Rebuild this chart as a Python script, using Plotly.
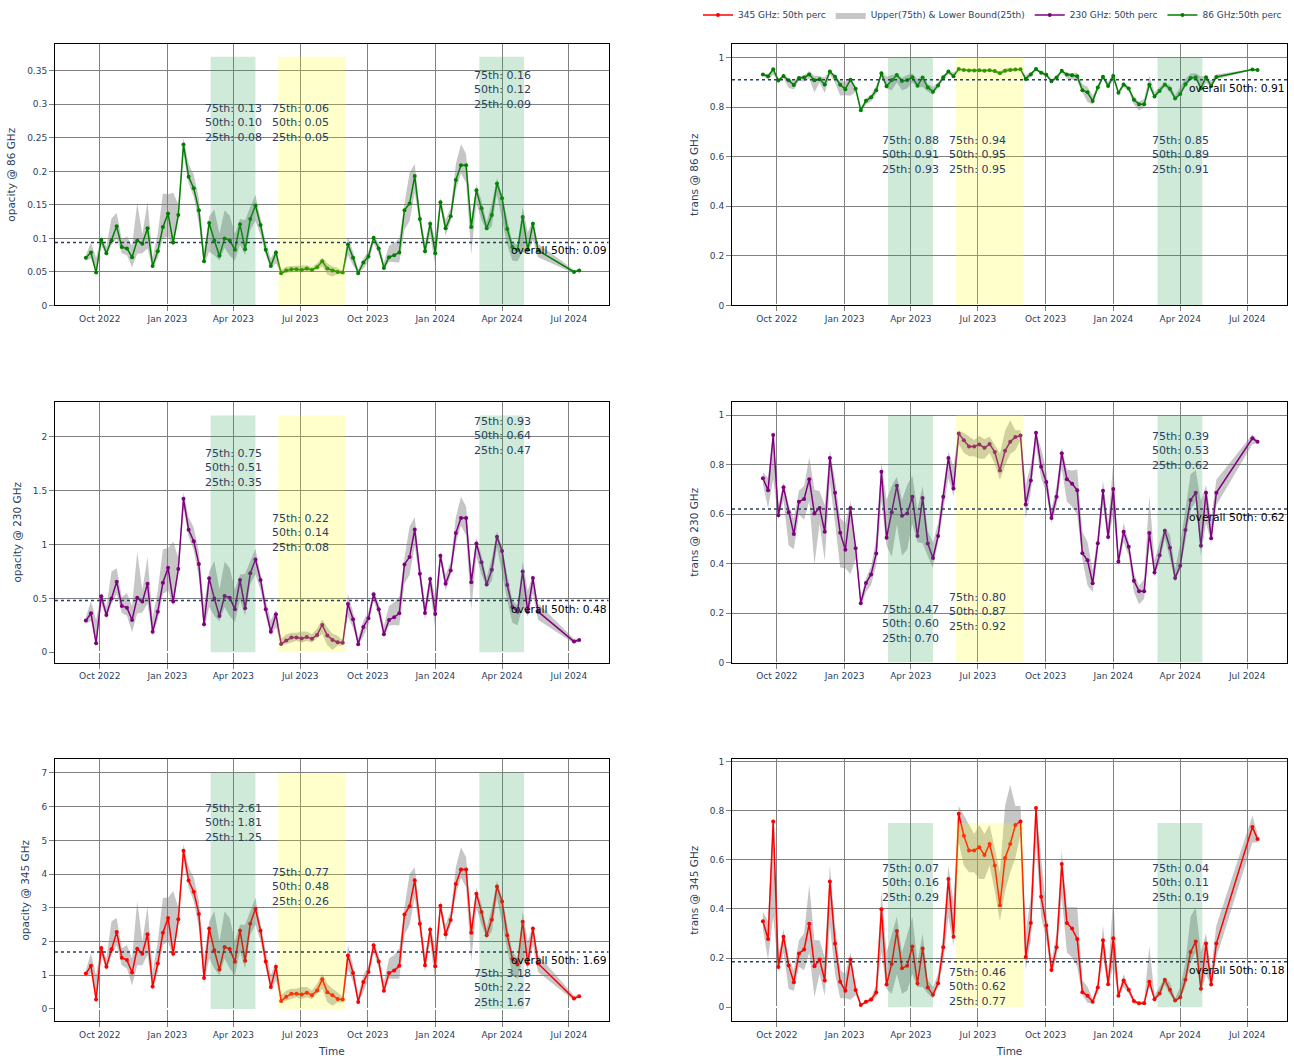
import plotly.graph_objects as go

dates = [
"2022-09-12","2022-09-19","2022-09-26","2022-10-03","2022-10-10","2022-10-17","2022-10-24","2022-10-31",
"2022-11-07","2022-11-14","2022-11-21","2022-11-28","2022-12-05","2022-12-12","2022-12-19","2022-12-26",
"2023-01-02","2023-01-09","2023-01-16","2023-01-23","2023-01-30","2023-02-06","2023-02-13","2023-02-20",
"2023-02-27","2023-03-06","2023-03-13","2023-03-20","2023-03-27","2023-04-03","2023-04-10","2023-04-17",
"2023-04-24","2023-05-01","2023-05-08","2023-05-15","2023-05-22","2023-05-29","2023-06-05","2023-06-12",
"2023-06-19","2023-06-26","2023-07-03","2023-07-10","2023-07-17","2023-07-24","2023-07-31","2023-08-07",
"2023-08-14","2023-08-21","2023-08-28","2023-09-04","2023-09-11","2023-09-18","2023-09-25","2023-10-02",
"2023-10-09","2023-10-16","2023-10-23","2023-10-30","2023-11-06","2023-11-13","2023-11-20","2023-11-27",
"2023-12-04","2023-12-11","2023-12-18","2023-12-25","2024-01-01","2024-01-08","2024-01-15","2024-01-22",
"2024-01-29","2024-02-05","2024-02-12","2024-02-19","2024-02-26","2024-03-04","2024-03-11","2024-03-18",
"2024-03-25","2024-04-01","2024-04-08","2024-04-15","2024-04-22","2024-04-29","2024-05-06","2024-05-13",
"2024-05-20","2024-07-08","2024-07-15"]

# ---------------- opacity @ 86 GHz ----------------
tau86_p50 = [0.071,0.079,0.049,0.098,0.078,0.097,0.118,0.087,0.085,0.072,0.097,0.092,0.115,0.059,0.081,0.117,
0.137,0.094,0.135,0.240,0.192,0.175,0.142,0.066,0.123,0.097,0.074,0.100,0.097,0.083,0.121,0.084,
0.129,0.149,0.120,0.083,0.059,0.079,0.048,0.052,0.054,0.054,0.053,0.055,0.053,0.057,0.066,0.055,
0.052,0.050,0.049,0.091,0.071,0.048,0.064,0.073,0.101,0.085,0.056,0.072,0.075,0.079,0.142,0.152,
0.193,0.129,0.081,0.122,0.078,0.154,0.115,0.133,0.187,0.209,0.209,0.117,0.172,0.145,0.115,0.135,
0.182,0.160,0.114,0.087,0.083,0.132,0.083,0.122,0.082,0.050,0.052]
tau86_p25 = [0.067,0.070,0.048,0.090,0.074,0.090,0.100,0.078,0.075,0.057,0.077,0.078,0.085,0.055,0.071,0.100,
0.103,0.088,0.127,0.226,0.182,0.162,0.122,0.061,0.080,0.075,0.067,0.086,0.074,0.067,0.091,0.075,
0.113,0.126,0.105,0.075,0.056,0.063,0.047,0.049,0.049,0.051,0.049,0.051,0.050,0.054,0.058,0.046,
0.043,0.047,0.047,0.075,0.060,0.048,0.055,0.065,0.093,0.077,0.053,0.065,0.065,0.064,0.113,0.126,
0.168,0.118,0.073,0.105,0.059,0.146,0.104,0.126,0.172,0.197,0.183,0.076,0.152,0.127,0.111,0.118,
0.166,0.127,0.090,0.067,0.066,0.080,0.077,0.098,0.072,0.048,0.051]
tau86_p75 = [0.075,0.094,0.071,0.102,0.088,0.130,0.138,0.098,0.103,0.089,0.153,0.106,0.155,0.072,0.107,0.167,
0.166,0.168,0.151,0.250,0.211,0.195,0.160,0.083,0.133,0.143,0.107,0.142,0.134,0.107,0.129,0.127,
0.147,0.165,0.129,0.095,0.070,0.085,0.053,0.058,0.059,0.059,0.060,0.060,0.057,0.063,0.071,0.063,
0.058,0.056,0.051,0.103,0.080,0.054,0.070,0.081,0.105,0.093,0.064,0.089,0.093,0.100,0.152,0.198,
0.211,0.142,0.093,0.129,0.099,0.161,0.128,0.145,0.211,0.241,0.226,0.129,0.181,0.156,0.125,0.152,
0.190,0.165,0.129,0.095,0.090,0.147,0.109,0.127,0.092,0.053,0.053]

# ---------------- opacity @ 230 GHz ----------------
tau230_p50 = [0.294,0.362,0.083,0.519,0.346,0.500,0.655,0.430,0.414,0.300,0.507,0.470,0.637,0.190,0.377,0.646,
0.785,0.470,0.773,1.425,1.138,1.032,0.819,0.260,0.686,0.500,0.337,0.522,0.507,0.400,0.671,0.408,
0.733,0.862,0.671,0.400,0.190,0.352,0.077,0.108,0.136,0.136,0.127,0.142,0.124,0.161,0.253,0.155,
0.114,0.093,0.087,0.448,0.306,0.074,0.235,0.315,0.538,0.400,0.167,0.300,0.325,0.362,0.816,0.884,
1.141,0.730,0.365,0.680,0.355,0.896,0.637,0.760,1.107,1.246,1.246,0.649,1.011,0.835,0.630,0.767,
1.073,0.940,0.624,0.420,0.377,0.751,0.377,0.689,0.377,0.099,0.114]
tau230_p25 = [0.264,0.293,0.074,0.456,0.316,0.449,0.541,0.364,0.339,0.186,0.360,0.368,0.451,0.154,0.302,0.538,
0.575,0.428,0.725,1.338,1.075,0.948,0.693,0.209,0.419,0.338,0.286,0.420,0.333,0.280,0.482,0.339,
0.634,0.721,0.575,0.337,0.160,0.232,0.065,0.075,0.091,0.106,0.088,0.103,0.091,0.131,0.169,0.065,
0.021,0.063,0.063,0.331,0.225,0.071,0.145,0.255,0.481,0.337,0.140,0.249,0.253,0.248,0.636,0.719,
0.985,0.661,0.305,0.572,0.214,0.848,0.571,0.718,1.014,1.174,1.084,0.391,0.885,0.721,0.603,0.662,
0.974,0.733,0.477,0.273,0.251,0.424,0.332,0.542,0.302,0.081,0.105]
tau230_p75 = [0.324,0.473,0.299,0.546,0.421,0.749,0.781,0.514,0.549,0.426,0.930,0.578,0.886,0.319,0.572,0.958,
0.965,1.028,0.875,1.488,1.255,1.158,0.933,0.434,0.749,0.848,0.586,0.840,0.783,0.580,0.722,0.729,
0.844,0.961,0.725,0.487,0.295,0.397,0.125,0.165,0.181,0.181,0.193,0.193,0.166,0.221,0.304,0.230,
0.171,0.153,0.108,0.541,0.375,0.131,0.295,0.375,0.571,0.457,0.245,0.429,0.463,0.518,0.876,1.169,
1.255,0.811,0.455,0.722,0.514,0.938,0.721,0.838,1.254,1.444,1.354,0.721,1.065,0.901,0.693,0.872,
1.124,0.973,0.717,0.483,0.431,0.844,0.572,0.722,0.452,0.126,0.120]

# ---------------- opacity @ 345 GHz ----------------
tau345_p50 = [1.05,1.28,0.28,1.81,1.25,1.77,2.28,1.52,1.45,1.08,1.79,1.64,2.22,0.67,1.35,2.26,
2.70,1.64,2.66,4.69,3.81,3.48,2.82,0.92,2.39,1.74,1.17,1.84,1.78,1.40,2.33,1.43,
2.53,2.97,2.32,1.41,0.65,1.25,0.24,0.36,0.45,0.45,0.43,0.48,0.41,0.55,0.88,0.50,
0.41,0.30,0.28,1.59,1.07,0.21,0.80,1.10,1.89,1.41,0.54,1.07,1.14,1.28,2.80,3.05,
3.82,2.53,1.30,2.36,1.27,3.06,2.22,2.64,3.71,4.14,4.14,2.26,3.42,2.88,2.19,2.65,
3.63,3.19,2.19,1.49,1.32,2.59,1.35,2.39,1.35,0.31,0.38]
tau345_p25 = [0.95,1.05,0.25,1.60,1.15,1.60,1.90,1.30,1.20,0.70,1.30,1.30,1.60,0.55,1.10,1.90,
2.00,1.50,2.50,4.40,3.60,3.20,2.40,0.75,1.50,1.20,1.00,1.50,1.20,1.00,1.70,1.20,
2.20,2.50,2.00,1.20,0.55,0.85,0.20,0.25,0.30,0.35,0.30,0.35,0.30,0.45,0.60,0.20,
0.10,0.20,0.20,1.20,0.80,0.20,0.50,0.90,1.70,1.20,0.45,0.90,0.90,0.90,2.20,2.50,
3.30,2.30,1.10,2.00,0.80,2.90,2.00,2.50,3.40,3.90,3.60,1.40,3.00,2.50,2.10,2.30,
3.30,2.50,1.70,1.00,0.90,1.50,1.20,1.90,1.10,0.25,0.35]
tau345_p75 = [1.15,1.65,1.00,1.90,1.50,2.60,2.70,1.80,1.90,1.50,3.20,2.00,3.05,1.10,2.00,3.30,
3.30,3.50,3.00,4.90,4.20,3.90,3.20,1.50,2.60,2.90,2.00,2.90,2.70,2.00,2.50,2.50,
2.90,3.30,2.50,1.70,1.00,1.40,0.40,0.55,0.60,0.60,0.65,0.65,0.55,0.75,1.05,0.75,
0.60,0.50,0.35,1.90,1.30,0.40,1.00,1.30,2.00,1.60,0.80,1.50,1.60,1.80,3.00,4.00,
4.20,2.80,1.60,2.50,1.80,3.20,2.50,2.90,4.20,4.80,4.50,2.50,3.60,3.10,2.40,3.00,
3.80,3.30,2.50,1.70,1.50,2.90,2.00,2.50,1.60,0.40,0.40]

# ---------------- transmission @ 86 GHz ----------------
trans86_p50 = [0.931,0.924,0.952,0.907,0.925,0.908,0.889,0.917,0.919,0.931,0.908,0.912,0.891,0.943,0.922,0.890,
0.872,0.910,0.874,0.787,0.825,0.839,0.868,0.936,0.884,0.908,0.929,0.905,0.908,0.920,0.886,0.919,
0.879,0.862,0.887,0.920,0.943,0.924,0.953,0.949,0.947,0.947,0.948,0.946,0.948,0.945,0.936,0.946,
0.949,0.951,0.952,0.913,0.931,0.953,0.938,0.930,0.904,0.919,0.946,0.931,0.928,0.924,0.868,0.859,
0.824,0.879,0.922,0.885,0.925,0.857,0.891,0.875,0.829,0.811,0.811,0.890,0.842,0.865,0.891,0.874,
0.834,0.852,0.892,0.917,0.920,0.876,0.920,0.885,0.921,0.951,0.949]
trans86_band_top = [0.935,0.932,0.953,0.914,0.929,0.914,0.905,0.925,0.928,0.945,0.926,0.925,0.919,0.946,0.931,0.905,
0.902,0.916,0.881,0.798,0.834,0.850,0.885,0.941,0.923,0.928,0.935,0.918,0.929,0.935,0.913,0.928,
0.893,0.882,0.900,0.928,0.946,0.939,0.954,0.952,0.952,0.950,0.952,0.950,0.951,0.947,0.944,0.955,
0.958,0.954,0.954,0.928,0.942,0.953,0.946,0.937,0.911,0.926,0.948,0.937,0.937,0.938,0.893,0.882,
0.845,0.889,0.930,0.900,0.943,0.864,0.901,0.882,0.842,0.821,0.833,0.927,0.859,0.881,0.895,0.889,
0.847,0.881,0.914,0.935,0.936,0.923,0.926,0.907,0.931,0.953,0.950]
trans86_band_bottom = [0.928,0.910,0.931,0.903,0.916,0.878,0.871,0.907,0.902,0.915,0.858,0.899,0.856,0.931,0.899,0.846,
0.847,0.845,0.860,0.779,0.810,0.823,0.852,0.920,0.875,0.867,0.899,0.868,0.875,0.899,0.879,0.881,
0.863,0.848,0.879,0.909,0.932,0.919,0.948,0.944,0.943,0.943,0.942,0.942,0.945,0.939,0.931,0.939,
0.944,0.946,0.950,0.902,0.923,0.947,0.932,0.922,0.900,0.911,0.938,0.915,0.911,0.905,0.859,0.820,
0.810,0.868,0.911,0.879,0.906,0.851,0.880,0.865,0.810,0.786,0.798,0.879,0.834,0.856,0.882,0.859,
0.827,0.848,0.879,0.909,0.914,0.863,0.897,0.881,0.912,0.948,0.948]

# ---------------- transmission @ 230 GHz ----------------
trans230_p50 = [0.745,0.696,0.920,0.595,0.708,0.607,0.519,0.650,0.661,0.741,0.602,0.625,0.529,0.827,0.686,0.524,
0.456,0.625,0.462,0.240,0.321,0.356,0.441,0.771,0.504,0.607,0.714,0.593,0.602,0.670,0.511,0.665,
0.481,0.422,0.511,0.670,0.827,0.703,0.926,0.898,0.873,0.873,0.881,0.868,0.883,0.851,0.776,0.856,
0.892,0.911,0.917,0.639,0.736,0.929,0.791,0.730,0.584,0.670,0.846,0.741,0.723,0.696,0.442,0.413,
0.320,0.482,0.694,0.507,0.701,0.408,0.529,0.468,0.331,0.288,0.288,0.523,0.364,0.434,0.533,0.464,
0.342,0.391,0.536,0.657,0.686,0.472,0.686,0.502,0.686,0.906,0.892]
trans230_band_top = [0.768,0.746,0.929,0.634,0.729,0.638,0.582,0.695,0.713,0.830,0.698,0.692,0.637,0.857,0.739,0.584,
0.563,0.652,0.484,0.262,0.341,0.388,0.500,0.811,0.658,0.713,0.751,0.657,0.717,0.756,0.618,0.713,
0.531,0.486,0.563,0.714,0.852,0.793,0.937,0.928,0.913,0.899,0.916,0.902,0.913,0.877,0.845,0.937,
0.979,0.939,0.939,0.718,0.798,0.931,0.865,0.775,0.618,0.714,0.869,0.780,0.776,0.780,0.529,0.487,
0.373,0.516,0.737,0.564,0.807,0.428,0.565,0.488,0.363,0.309,0.338,0.676,0.413,0.486,0.547,0.516,
0.378,0.481,0.621,0.761,0.778,0.654,0.717,0.582,0.739,0.922,0.900]
trans230_band_bottom = [0.723,0.623,0.742,0.579,0.656,0.473,0.458,0.598,0.577,0.653,0.395,0.561,0.412,0.727,0.564,0.384,
0.381,0.358,0.417,0.226,0.285,0.314,0.393,0.648,0.473,0.428,0.557,0.432,0.457,0.560,0.486,0.482,
0.430,0.383,0.484,0.614,0.745,0.672,0.882,0.848,0.834,0.834,0.824,0.824,0.847,0.802,0.738,0.795,
0.843,0.858,0.898,0.582,0.687,0.877,0.745,0.687,0.565,0.633,0.783,0.651,0.630,0.596,0.416,0.311,
0.285,0.444,0.634,0.486,0.598,0.391,0.486,0.433,0.285,0.236,0.258,0.486,0.345,0.406,0.500,0.418,
0.325,0.378,0.488,0.617,0.650,0.430,0.564,0.486,0.636,0.882,0.887]

# ---------------- transmission @ 345 GHz ----------------
trans345_p50 = [0.350,0.278,0.756,0.164,0.287,0.170,0.102,0.219,0.235,0.340,0.167,0.194,0.109,0.512,0.259,0.104,
0.067,0.194,0.070,0.009,0.022,0.031,0.060,0.399,0.092,0.176,0.310,0.159,0.169,0.247,0.097,0.239,
0.080,0.051,0.098,0.244,0.522,0.287,0.787,0.698,0.638,0.638,0.651,0.619,0.664,0.577,0.415,0.607,
0.664,0.741,0.756,0.204,0.343,0.811,0.449,0.333,0.151,0.244,0.583,0.343,0.320,0.278,0.061,0.047,
0.022,0.080,0.273,0.094,0.281,0.047,0.109,0.071,0.025,0.016,0.016,0.104,0.033,0.056,0.112,0.071,
0.027,0.041,0.112,0.225,0.267,0.075,0.259,0.092,0.259,0.733,0.684]
trans345_band_top = [0.387,0.350,0.779,0.202,0.317,0.202,0.150,0.273,0.301,0.497,0.273,0.273,0.202,0.577,0.333,0.150,
0.135,0.223,0.082,0.012,0.027,0.041,0.091,0.472,0.223,0.301,0.368,0.223,0.301,0.368,0.183,0.301,
0.111,0.082,0.135,0.301,0.577,0.427,0.819,0.779,0.741,0.705,0.741,0.705,0.741,0.638,0.549,0.819,
0.905,0.819,0.819,0.301,0.449,0.819,0.607,0.407,0.183,0.301,0.638,0.407,0.407,0.407,0.111,0.082,
0.037,0.100,0.333,0.135,0.449,0.055,0.135,0.082,0.033,0.020,0.027,0.247,0.050,0.082,0.122,0.100,
0.037,0.082,0.183,0.368,0.407,0.223,0.301,0.150,0.333,0.779,0.705]
trans345_band_bottom = [0.317,0.192,0.368,0.150,0.223,0.074,0.067,0.165,0.150,0.223,0.041,0.135,0.047,0.333,0.135,0.037,
0.037,0.030,0.050,0.007,0.015,0.020,0.041,0.223,0.074,0.055,0.135,0.055,0.067,0.135,0.082,0.082,
0.055,0.037,0.082,0.183,0.368,0.247,0.670,0.577,0.549,0.549,0.522,0.522,0.577,0.472,0.350,0.472,
0.549,0.607,0.705,0.150,0.273,0.670,0.368,0.273,0.135,0.202,0.449,0.223,0.202,0.165,0.050,0.018,
0.015,0.061,0.202,0.082,0.165,0.041,0.082,0.055,0.015,0.008,0.011,0.082,0.027,0.045,0.091,0.050,
0.022,0.037,0.082,0.183,0.223,0.055,0.135,0.082,0.202,0.670,0.670]

# overall medians and seasonal percentile summaries
overall_50 = {"o86": 0.094, "t86": 0.91, "o230": 0.48, "t230": 0.62, "o345": 1.69, "t345": 0.185}
overall_txt = {"o86": "0.09", "t86": "0.91", "o230": "0.48", "t230": "0.62", "o345": "1.69", "t345": "0.18"}
season_stats = {
    "o86":  [("0.13", "0.10", "0.08"), ("0.06", "0.05", "0.05"), ("0.16", "0.12", "0.09")],
    "t86":  [("0.88", "0.91", "0.93"), ("0.94", "0.95", "0.95"), ("0.85", "0.89", "0.91")],
    "o230": [("0.75", "0.51", "0.35"), ("0.22", "0.14", "0.08"), ("0.93", "0.64", "0.47")],
    "t230": [("0.47", "0.60", "0.70"), ("0.80", "0.87", "0.92"), ("0.39", "0.53", "0.62")],
    "o345": [("2.61", "1.81", "1.25"), ("0.77", "0.48", "0.26"), ("3.18", "2.22", "1.67")],
    "t345": [("0.07", "0.16", "0.29"), ("0.46", "0.62", "0.77"), ("0.04", "0.11", "0.19")],
}
season_note_x = ["2023-04-01", "2023-07-01", "2024-04-01"]
seasons = [("2023-03-01", "2023-05-01", "rgb(40,160,80)"), ("2023-06-01", "2023-09-01", "yellow"),
           ("2024-03-01", "2024-05-01", "rgb(40,160,80)")]

FONT = "DejaVu Sans, Verdana, sans-serif"
TXT = "#2a3f5f"
xdom = {1: [0, 0.4493], 2: [0.5495, 1.0]}
ydom = {1: [0.7324, 1.0], 2: [0.3669, 0.6336], 3: [0.0, 0.2677]}
xrange_ = ["2022-08-01", "2024-08-24"]

panels = [
    dict(key="o86", row=1, col=1, med=tau86_p50, top=tau86_p75, bot=tau86_p25, color="green", name="86 GHz:50th perc", rank=4,
         ytitle="opacity @ 86 GHz", yrange=[0, 0.39], dtick=0.05, rtop=0.371, note_y=[0.272, 0.272, 0.3215]),
    dict(key="t86", row=1, col=2, med=trans86_p50, top=trans86_band_top, bot=trans86_band_bottom, color="green", name="86 GHz:50th perc", rank=4,
         ytitle="trans @ 86 GHz", yrange=[0, 1.054], dtick=0.2, rtop=1.0, note_y=[0.605, 0.605, 0.605]),
    dict(key="o230", row=2, col=1, med=tau230_p50, top=tau230_p75, bot=tau230_p25, color="purple", name="230 GHz: 50th perc", rank=3,
         ytitle="opacity @ 230 GHz", yrange=[-0.096, 2.325], dtick=0.5, rtop=2.2, note_y=[1.709, 1.108, 2.009]),
    dict(key="t230", row=2, col=2, med=trans230_p50, top=trans230_band_top, bot=trans230_band_bottom, color="purple", name="230 GHz: 50th perc", rank=3,
         ytitle="trans @ 230 GHz", yrange=[0, 1.053], dtick=0.2, rtop=1.0, note_y=[0.154, 0.204, 0.855]),
    dict(key="o345", row=3, col=1, med=tau345_p50, top=tau345_p75, bot=tau345_p25, color="red", name="345 GHz: 50th perc", rank=1,
         ytitle="opacity @ 345 GHz", yrange=[-0.356, 7.40], dtick=1, rtop=7.0, note_y=[5.53, 3.63, 0.633]),
    dict(key="t345", row=3, col=2, med=trans345_p50, top=trans345_band_top, bot=trans345_band_bottom, color="red", name="345 GHz: 50th perc", rank=1,
         ytitle="trans @ 345 GHz", yrange=[-0.056, 1.008], dtick=0.2, rtop=0.75, note_y=[0.504, 0.084, 0.504]),
]

fig = go.Figure()
layout = {}
shapes = []
annotations = []
legend_done = set()
for i, p in enumerate(panels, start=1):
    sfx = "" if i == 1 else str(i)
    xa, ya = "x" + sfx, "y" + sfx
    fig.add_trace(go.Scatter(x=dates, y=p["top"], mode="lines", line=dict(width=0), xaxis=xa, yaxis=ya,
                             showlegend=False, hoverinfo="skip"))
    fig.add_trace(go.Scatter(x=dates, y=p["bot"], mode="lines", line=dict(width=0), fill="tonexty",
                             fillcolor="rgba(128,128,128,0.45)", xaxis=xa, yaxis=ya,
                             name="Upper(75th) & Lower Bound(25th)", legendrank=2,
                             showlegend=("band" not in legend_done)))
    legend_done.add("band")
    fig.add_trace(go.Scatter(x=dates, y=p["med"], mode="lines+markers", xaxis=xa, yaxis=ya,
                             line=dict(color=p["color"], width=1.5), marker=dict(size=4, color=p["color"]),
                             name=p["name"], legendrank=p["rank"], showlegend=(p["name"] not in legend_done)))
    legend_done.add(p["name"])
    axcommon = dict(showgrid=True, gridcolor="grey", gridwidth=1, showline=True, linecolor="black", linewidth=1,
                    mirror=True, ticks="outside", ticklen=5, tickcolor="grey", automargin=False,
                    tickfont=dict(size=9, color=TXT, family=FONT))
    layout["xaxis" + sfx] = dict(axcommon, domain=xdom[p["col"]], anchor=ya, range=xrange_, type="date",
                                 dtick="M3", tick0="2022-10-01", tickformat="%b %Y",
                                 title=dict(text="Time" if p["row"] == 3 else "", standoff=8,
                                            font=dict(size=10.5, color=TXT, family=FONT)))
    layout["yaxis" + sfx] = dict(axcommon, domain=ydom[p["row"]], anchor=xa, range=p["yrange"], dtick=p["dtick"],
                                 title=dict(text=p["ytitle"], standoff=9, font=dict(size=10.5, color=TXT, family=FONT)))
    for (x0, x1, c) in seasons:
        shapes.append(dict(type="rect", xref=xa, yref=ya, x0=x0, x1=x1, y0=0, y1=p["rtop"],
                           fillcolor=c, opacity=0.22 if c != "yellow" else 0.2, line=dict(width=0), layer="above"))
    ov = overall_50[p["key"]]
    shapes.append(dict(type="line", xref=xa + " domain", yref=ya, x0=0, x1=1, y0=ov, y1=ov,
                       line=dict(color=TXT, width=1.5, dash="dot")))
    annotations.append(dict(xref=xa + " domain", yref=ya, x=1, y=ov, text="overall 50th: " + overall_txt[p["key"]],
                            showarrow=False, xanchor="right", yanchor="top",
                            font=dict(size=10.75, color="black", family=FONT)))
    for (s75, s50, s25), xv, yv in zip(season_stats[p["key"]], season_note_x, p["note_y"]):
        annotations.append(dict(xref=xa, yref=ya, x=xv, y=yv,
                                text="75th: %s<br>50th: %s<br>25th: %s" % (s75, s50, s25),
                                showarrow=False, align="left", font=dict(size=11, color=TXT, family=FONT)))

fig.update_layout(**layout)
fig.update_layout(
    width=1294, height=1059, template="plotly",
    margin=dict(l=55, r=7, t=44, b=38, autoexpand=False),
    plot_bgcolor="white", paper_bgcolor="white",
    font=dict(family=FONT, color=TXT, size=10),
    shapes=shapes, annotations=annotations,
    legend=dict(orientation="h", traceorder="normal", x=1, xanchor="right", y=1.0446, yanchor="top",
                font=dict(size=9, color=TXT, family=FONT), bgcolor="rgba(255,255,255,0)"),
)
fig.write_html("out.html", config={"displayModeBar": False},
               post_script="document.body.style.margin='0';document.body.style.overflow='hidden';")
